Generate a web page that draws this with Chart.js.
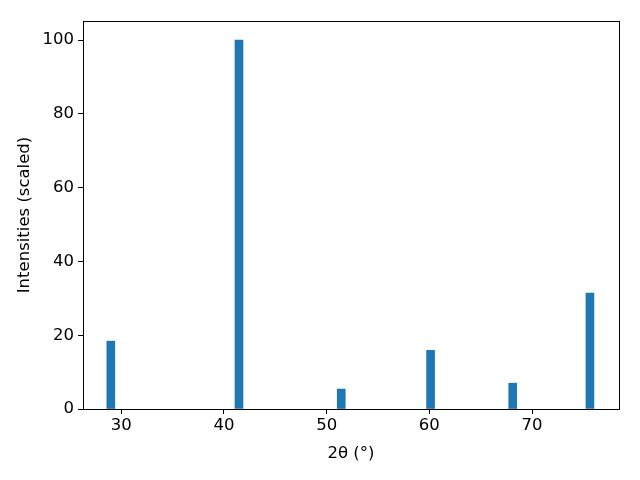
<!DOCTYPE html>
<html>
<head>
<meta charset="utf-8">
<script src="https://cdn.jsdelivr.net/npm/chart.js@4"></script>
<style>
  html, body { margin: 0; padding: 0; background: #fff; }
  #wrap { width: 640px; height: 480px; }
</style>
</head>
<body>
<div id="wrap"><canvas id="xrd"></canvas></div>
<script>
// peak positions (2theta, degrees) and scaled intensities
const twoTheta = [28.98, 41.46, 51.42, 60.12, 68.12, 75.64];
const intensity = [18.4, 100, 5.4, 15.9, 7.0, 31.4];
const xTicks = [30, 40, 50, 60, 70];
const yTicks = [0, 20, 40, 60, 80, 100];

const FONT = { family: 'DejaVu Sans', size: 16.5 };

// frame around the plot area, like matplotlib spines
const frame = {
    id: 'frame',
    afterDraw(chart) {
        const a = chart.chartArea, ctx = chart.ctx;
        ctx.save();
        ctx.strokeStyle = '#000';
        ctx.lineWidth = 1;
        ctx.strokeRect(Math.round(a.left) + 0.5, Math.round(a.top) + 0.5,
            Math.round(a.right - a.left), Math.round(a.bottom - a.top));
        ctx.restore();
    }
};

new Chart(document.getElementById('xrd'), {
    type: 'bar',
    data: {
        datasets: [{
            data: twoTheta.map((x, i) => ({ x: x, y: intensity[i] })),
            backgroundColor: '#1f77b4',
            borderWidth: 0,
            barThickness: 8
        }]
    },
    options: {
        responsive: true,
        maintainAspectRatio: false,
        animation: false,
        layout: { padding: { top: 21, right: 21, left: 0, bottom: 0 } },
        plugins: { legend: { display: false }, tooltip: { enabled: false } },
        scales: {
            x: {
                type: 'linear',
                min: 26.27,
                max: 78.47,
                offset: false,
                afterBuildTicks: s => { s.ticks = xTicks.map(v => ({ value: v })); },
                afterFit: s => { s.height = 71; },
                grid: { offset: false, drawOnChartArea: false, drawTicks: true, tickLength: 5, color: '#000' },
                border: { display: false },
                ticks: { color: '#000', font: FONT, padding: 2, maxRotation: 0 },
                title: { display: true, text: '2θ (°)', color: '#000', font: FONT, padding: { top: 4, bottom: 16 } }
            },
            y: {
                min: 0,
                max: 105.2,
                afterBuildTicks: s => { s.ticks = yTicks.map(v => ({ value: v })); },
                afterFit: s => { s.width = 83; },
                grid: { drawOnChartArea: false, drawTicks: true, tickLength: 5, color: '#000' },
                border: { display: false },
                ticks: { color: '#000', font: FONT, padding: 4 },
                title: { display: true, text: 'Intensities (scaled)', color: '#000', font: FONT, padding: { top: 15, bottom: 4 } }
            }
        }
    },
    plugins: [frame]
});
</script>
</body>
</html>
